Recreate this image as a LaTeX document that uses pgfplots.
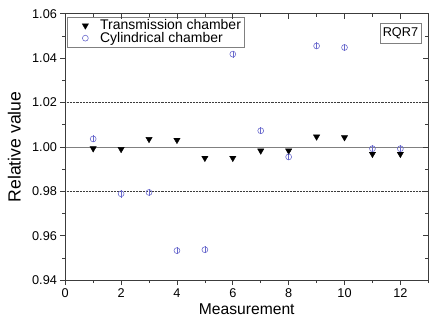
\documentclass[border=0pt]{standalone}
\usepackage{pgfplots}
\pgfplotsset{compat=1.18}
\usepackage{fontspec}
\setmainfont{Liberation Sans}
\definecolor{cylblue}{RGB}{105,105,205}
\definecolor{axgray}{RGB}{60,60,60}
\begin{document}
\begin{tikzpicture}
\begin{axis}[
  name=ax,
  scale only axis, width=370bp, height=271.5bp,
  xmin=0, xmax=13, ymin=0.94, ymax=1.06,
  xtick={0,2,4,6,8,10,12}, minor xtick={1,3,5,7,9,11,13},
  ytick={0.94,0.96,0.98,1.00,1.02,1.04,1.06},
  minor ytick={0.95,0.97,0.99,1.01,1.03,1.05},
  xtick pos=left, ytick pos=left,
  tick align=outside,
  major tick length=5bp, minor tick length=3bp,
  every tick/.style={axgray, line width=0.7pt},
  axis line style={axgray, line width=0.8pt},
  /pgf/number format/assume math mode=true,
  yticklabel style={/pgf/number format/.cd, fixed, fixed zerofill, precision=2},
  ticklabel style={font=\fontsize{13}{15}\selectfont},
  xlabel={Measurement}, ylabel={Relative value},
  xlabel style={font=\fontsize{16}{19}\selectfont},
  ylabel style={font=\fontsize{18}{21}\selectfont, at={(axis description cs:-0.14,0.5)}, anchor=center},
  legend style={at={(rel axis cs:0,1)}, anchor=north west, xshift=1.8bp, yshift=-3bp,
    draw=gray, font=\fontsize{14.3}{16}\selectfont, row sep=-3pt, inner xsep=1.5bp, inner ysep=1bp},
  legend cell align=left,
  legend image code/.code={\path[draw=none, fill=none] (0bp,0bp) (30bp,0bp); \draw[#1, only marks] plot coordinates {(17bp,0bp)};},
]
\draw[gray, line width=0.7pt] (axis cs:0,1.00) -- (axis cs:13,1.00);
\draw[axgray, densely dotted, line width=0.5pt] (axis cs:0,0.98) -- (axis cs:13,0.98);
\draw[axgray, densely dotted, line width=0.5pt] (axis cs:0,1.02) -- (axis cs:13,1.02);
\addplot[only marks, mark=triangle*, mark options={rotate=180, fill=black, draw=black}, mark size=3.7bp]
  coordinates {(1,0.9993) (2,0.9990) (3,1.0035) (4,1.0031) (5,0.9950) (6,0.9950)
  (7,0.9983) (8,0.9983) (9,1.0046) (10,1.0043) (11,0.9968) (12,0.9968)};
\addlegendentry{Transmission chamber}
\addplot[only marks, mark=o, cylblue, mark size=3bp, line width=0.6pt,
  error bars/.cd, y dir=both, y explicit, error mark=-, error mark options={cylblue, mark size=2.9bp, line width=0.6pt},
  error bar style={cylblue, line width=0.6pt}]
  table[x=x, y=y, y error=e] {
x y e
1 1.0036 0.0003
2 0.9789 0.0005
3 0.9795 0.0003
4 0.9533 0.0003
5 0.9537 0.0003
6 1.0418 0.0003
7 1.0073 0.0003
8 0.9955 0.0003
9 1.0455 0.0003
10 1.0448 0.0003
11 0.9992 0.0003
12 0.9992 0.0003
};
\addlegendentry{Cylindrical chamber}
\node[draw=gray, anchor=north east, font=\fontsize{13}{15}\selectfont, inner xsep=3bp, inner ysep=4.6bp]
  at (rel axis cs:0.9805,0.9657) {RQR7};
\coordinate (bl) at (rel axis cs:0,0);
\end{axis}
\begin{axis}[
  scale only axis, width=370bp, height=271.5bp,
  at={(ax.south west)}, anchor=south west,
  xmin=0, xmax=13, ymin=0.94, ymax=1.06,
  xtick={0,2,4,6,8,10,12}, minor xtick={1,3,5,7,9,11,13},
  ytick={0.94,0.96,0.98,1.00,1.02,1.04,1.06},
  minor ytick={0.95,0.97,0.99,1.01,1.03,1.05},
  xtick pos=right, ytick pos=right,
  tick align=inside,
  major tick length=5bp, minor tick length=3bp,
  every tick/.style={axgray, line width=0.7pt},
  axis line style={axgray, line width=0.8pt},
  xticklabels={}, yticklabels={},
]
\end{axis}
\path[use as bounding box] ([shift={(-66.5bp,-50.5bp)}]bl) rectangle ([shift={(368.5bp,285.5bp)}]bl);
\end{tikzpicture}
\end{document}
